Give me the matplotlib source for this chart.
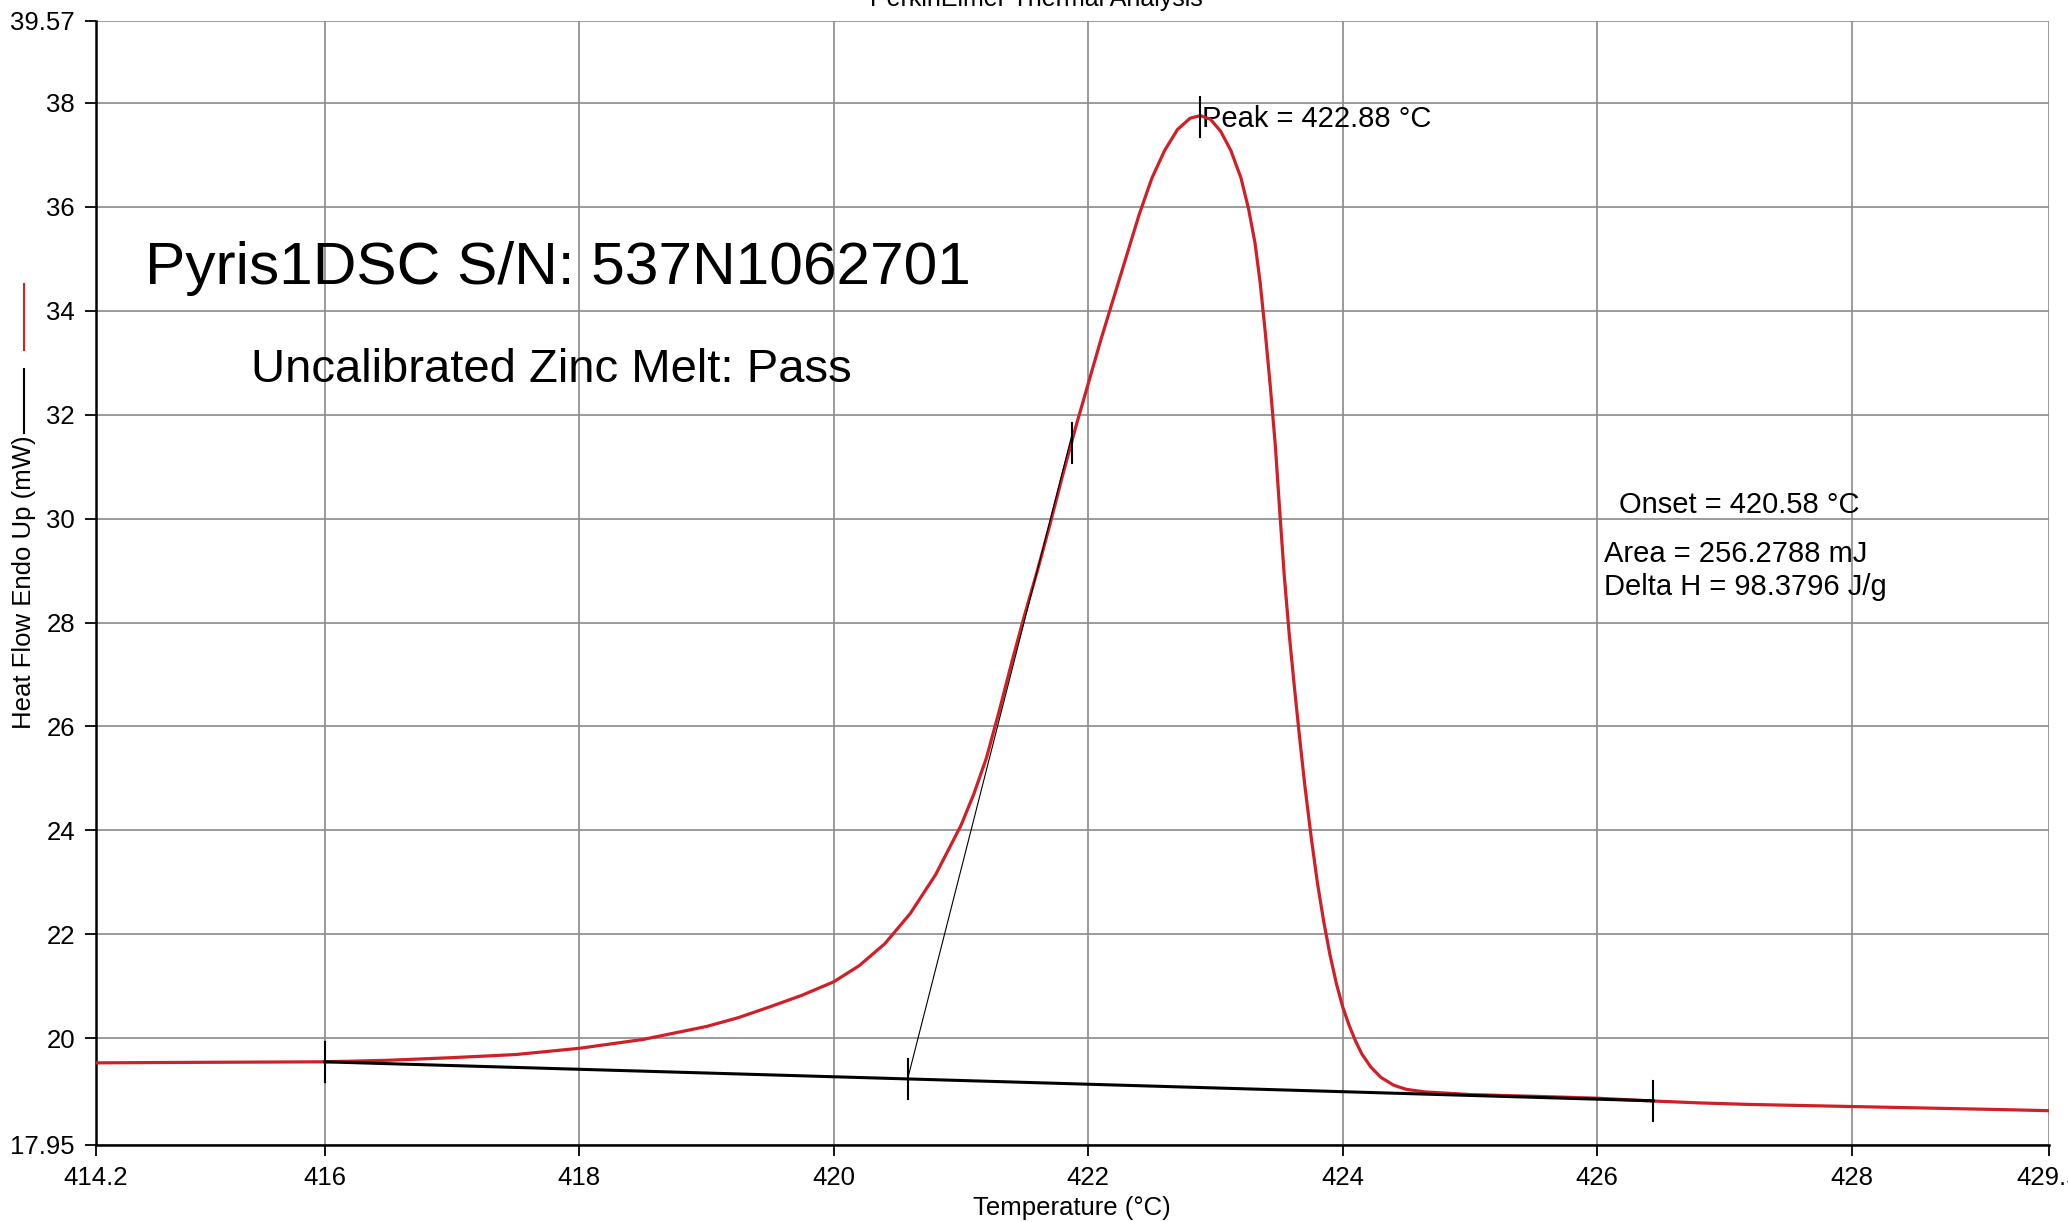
import numpy as np
import matplotlib
matplotlib.use("Agg")
from matplotlib import pyplot
from matplotlib.lines import Line2D

pyplot.rcParams["font.family"] = ["Liberation Sans", "DejaVu Sans"]

# DSC heat flow curve (red)
temp = [414.2, 415.0, 416.0, 416.5, 417.0, 417.5, 418.0, 418.5, 419.0, 419.25,
        419.5, 419.75, 420.0, 420.2, 420.4, 420.6, 420.8, 421.0, 421.1, 421.2,
        421.3, 421.4, 421.5, 421.6, 421.7, 421.8, 421.9, 422.0, 422.1, 422.2,
        422.3, 422.4, 422.5, 422.6, 422.7, 422.8, 422.88, 422.96, 423.04, 423.12,
        423.2, 423.26, 423.31, 423.35, 423.39, 423.43, 423.47, 423.5, 423.54, 423.58,
        423.62, 423.66, 423.7, 423.75, 423.8, 423.85, 423.9, 423.95, 424.0, 424.05,
        424.1, 424.15, 424.22, 424.3, 424.4, 424.5, 424.65, 424.8, 425.0, 425.3,
        425.6, 426.0, 426.4, 426.8, 427.2, 427.6, 428.0, 428.4, 428.8, 429.2,
        429.55]
heat_flow = [19.53, 19.54, 19.55, 19.58, 19.63, 19.69, 19.81, 19.98, 20.23, 20.40,
             20.61, 20.83, 21.09, 21.40, 21.82, 22.40, 23.15, 24.10, 24.70, 25.40,
             26.30, 27.25, 28.15, 29.00, 29.90, 30.85, 31.75, 32.60, 33.45, 34.25,
             35.05, 35.85, 36.55, 37.08, 37.48, 37.70, 37.75, 37.68, 37.45, 37.08,
             36.55, 35.95, 35.30, 34.55, 33.60, 32.55, 31.40, 30.30, 28.90, 27.75,
             26.75, 25.80, 24.90, 23.90, 23.00, 22.25, 21.60, 21.05, 20.60, 20.25,
             19.95, 19.70, 19.45, 19.25, 19.10, 19.02, 18.97, 18.95, 18.92, 18.90,
             18.88, 18.85, 18.80, 18.76, 18.73, 18.71, 18.69, 18.67, 18.65, 18.63,
             18.61]

# baseline and onset tangent
baseline_t = [416.0, 426.44]
baseline_y = [19.55, 18.80]
tangent_t = [420.58, 421.87]
tangent_y = [19.22, 31.6]

# event markers (start, onset, inflection, peak, end)
event_t = [416.0, 420.58, 421.87, 422.88, 426.44]
event_y = [19.55, 19.22, 31.45, 37.72, 18.80]
marker_half = 0.38

xticks = [414.2, 416, 418, 420, 422, 424, 426, 428, 429.55]
xticklabels = ["414.2", "416", "418", "420", "422", "424", "426", "428", "429.5"]
yticks = [17.95, 20, 22, 24, 26, 28, 30, 32, 34, 36, 38, 39.57]
yticklabels = ["17.95", "20", "22", "24", "26", "28", "30", "32", "34", "36", "38", "39.57"]

red = "#d01f26"

fig = pyplot.figure(figsize=(20.68, 12.22), dpi=100)
ax = fig.add_axes([95.8 / 2068, 1 - 1145 / 1222, (2049 - 95.8) / 2068, (1145 - 21) / 1222])

ax.set_xlim(xticks[0], xticks[-1])
ax.set_ylim(yticks[0], yticks[-1])
ax.set_xticks(xticks)
ax.set_xticklabels(xticklabels)
ax.set_yticks(yticks)
ax.set_yticklabels(yticklabels)
ax.tick_params(direction="out", length=8, width=1.3, labelsize=18.5, pad=7, color="black")
ax.grid(True, color="#8a8a8a", linewidth=1.2)
ax.set_axisbelow(True)
for side in ["top", "right"]:
    ax.spines[side].set_visible(False)
for side in ["left", "bottom"]:
    ax.spines[side].set_linewidth(1.8)
    ax.spines[side].set_color("black")
    ax.spines[side].set_zorder(3)

ax.plot(temp, heat_flow, color=red, linewidth=2.3, zorder=4, solid_joinstyle="round")
ax.plot(baseline_t, baseline_y, color="black", linewidth=2.2, zorder=5)
ax.plot(tangent_t, tangent_y, color="black", linewidth=0.8, zorder=5)
for t, y in zip(event_t, event_y):
    ax.plot([t, t], [y - marker_half, y + marker_half], color="black", linewidth=1.5, zorder=6)

ax.text(414.586, 34.52, "Pyris1DSC S/N: 537N1062701", fontsize=43.5, va="baseline", ha="left")
ax.text(415.416, 32.62, "Uncalibrated Zinc Melt: Pass", fontsize=34, va="baseline", ha="left")
ax.text(422.89, 37.54, "Peak = 422.88 °C", fontsize=21, va="baseline", ha="left")
ax.text(426.17, 30.11, "Onset = 420.58 °C", fontsize=21, va="baseline", ha="left")
ax.text(426.05, 29.16, "Area = 256.2788 mJ", fontsize=21, va="baseline", ha="left")
ax.text(426.05, 28.53, "Delta H = 98.3796 J/g", fontsize=21, va="baseline", ha="left")

fig.text(1072 / 2068, 1 - 1208 / 1222, "Temperature (°C)", fontsize=18.5, ha="center", va="center")
fig.text(24 / 2068, 1 - 582.5 / 1222, "Heat Flow Endo Up (mW)", fontsize=18.5,
         rotation=90, ha="center", va="center")
fig.add_artist(Line2D([24 / 2068, 24 / 2068], [1 - 283.6 / 1222, 1 - 349.5 / 1222],
                      color=red, linewidth=1.5, transform=fig.transFigure))
fig.add_artist(Line2D([24 / 2068, 24 / 2068], [1 - 369 / 1222, 1 - 432.6 / 1222],
                      color="black", linewidth=1.5, transform=fig.transFigure))
fig.text(1036 / 2068, 1 - 6 / 1222, "PerkinElmer Thermal Analysis", fontsize=18,
         ha="center", va="baseline")

fig.savefig("out.png", dpi=100)
